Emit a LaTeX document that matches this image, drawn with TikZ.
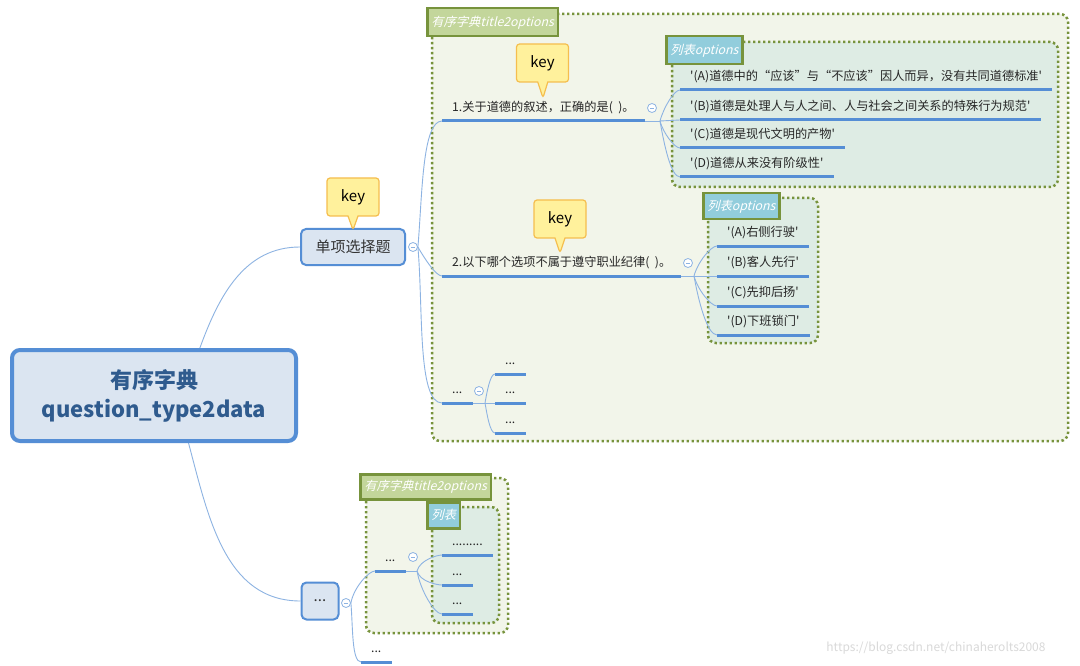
\documentclass[tikz,border=0pt]{standalone}
\usepackage{fontspec}
\setmainfont{Noto Sans CJK SC}[ItalicFont={Noto Sans CJK SC}, ItalicFeatures={FakeSlant=0.25}]
\usetikzlibrary{shapes.callouts}

\definecolor{rootfill}{HTML}{DBE5F1}
\definecolor{rootline}{HTML}{558ED5}
\definecolor{rootink}{HTML}{2F5B8E}
\definecolor{keyfill}{HTML}{FFF19C}
\definecolor{keyline}{HTML}{F5BE4E}
\definecolor{bndline}{HTML}{77933C}
\definecolor{bndfill}{HTML}{F2F5EA}
\definecolor{lstfill}{HTML}{DEECE4}
\definecolor{tagfill}{HTML}{C3D69B}
\definecolor{lsttag}{HTML}{92CDDC}
\definecolor{branchc}{HTML}{8DB3E2}
\definecolor{ulinec}{HTML}{558ED5}

\tikzset{
  rootbox/.style={draw=rootline, fill=rootfill, line width=4pt, rounded corners=8pt,
    minimum width=284pt, minimum height=91pt, align=center, text=rootink,
    font=\fontsize{22}{29}\selectfont\bfseries},
  subbox/.style={draw=rootline, fill=rootfill, line width=2pt, rounded corners=5pt,
    minimum height=36pt, text=black!80, font=\fontsize{15}{17}\selectfont},
  topic/.style={anchor=south west, inner xsep=10pt, inner ysep=7pt, text depth=2pt,
    text height=9pt, text=black!85, font=\fontsize{12.2}{14}\selectfont},
  uline/.style={draw=ulinec, line width=3pt},
  conn/.style={draw=branchc, line width=0.9pt},
  bup/.style={out=#1, in=180, in looseness=0.4},
  fold/.style={circle, draw=branchc, fill=white, line width=0.8pt, minimum size=9pt,
    inner sep=0pt, path picture={\draw[branchc, line width=0.8pt]
      ([xshift=-2.2pt]path picture bounding box.center) --
      ([xshift=2.2pt]path picture bounding box.center);}},
  keytip/.style={rectangle callout, rounded corners=3pt, draw=keyline, fill=keyfill,
    line width=1.2pt, minimum width=52pt, minimum height=38pt, callout pointer width=10pt,
    font=\fontsize{15}{17}\selectfont},
  bnd/.style={draw=bndline, fill=bndfill, line width=2.5pt, dash pattern=on 2.4pt off 2.6pt,
    rounded corners=8pt},
  lst/.style={bnd, fill=lstfill},
  tag/.style={anchor=north west, draw=bndline, line width=2.5pt, fill=tagfill, text=white,
    inner xsep=4pt, inner ysep=0pt, font=\fontsize{12.3}{14}\selectfont\itshape},
  lsttagbox/.style={tag, fill=lsttag}
}

\begin{document}
\begin{tikzpicture}[x=1pt, y=-1pt]
\useasboundingbox[fill=white] (0,0) rectangle (1080,666);

% groups (boundaries)
\draw[bnd] (432,14) rectangle (1068,441);
\draw[lst] (672,42) rectangle (1058,187);
\draw[lst] (708,198) rectangle (818,343);
\draw[bnd] (366,478) rectangle (508,633);
\draw[lst] (432,507) rectangle (499,623);
\node[tag, minimum height=28pt] (g1) at (426,7) {有序字典title2options};
\node[lsttagbox, minimum height=28pt] (l1) at (665,35) {列表options};
\node[lsttagbox, minimum height=26pt] (l2) at (702,192) {列表options};
\node[tag, minimum height=25pt] (g2) at (359,473) {有序字典title2options};
\node[lsttagbox, minimum height=26pt] (l3) at (426,501) {列表};

% main topics
\node[rootbox] (root) at (154,395.5) {有序字典\\question\_type2data};
\node[subbox, minimum width=104pt] (q1) at (353,247) {单项选择题};
\node[subbox, minimum width=37pt, minimum height=37pt] (q2) at (320,601) {...};
\node[fold] (fq1) at (413,247) {};
\node[fold] (fq2) at (346,603) {};

% first question
\node[topic] (t1) at (442,121) {1.关于道德的叙述，正确的是(\ \ )。};
\node[fold] (f1) at (652,108) {};
\coordinate (b1) at (660,121);
\node[topic] (o1a) at (680,90) {\textquotesingle(A)道德中的“应该”与“不应该”因人而异，没有共同道德标准\textquotesingle};
\node[topic] (o1b) at (680,120) {\textquotesingle(B)道德是处理人与人之间、人与社会之间关系的特殊行为规范\textquotesingle};
\node[topic] (o1c) at (680,148) {\textquotesingle(C)道德是现代文明的产物\textquotesingle};
\node[topic] (o1d) at (680,177) {\textquotesingle(D)道德从来没有阶级性\textquotesingle};

% second question
\node[topic] (t2) at (442,276) {2.以下哪个选项不属于遵守职业纪律(\ \ )。};
\node[fold] (f2) at (688,263) {};
\coordinate (b2) at (694,276);
\node[topic] (o2a) at (717,246) {\textquotesingle(A)右侧行驶\textquotesingle};
\node[topic] (o2b) at (717,276) {\textquotesingle(B)客人先行\textquotesingle};
\node[topic] (o2c) at (717,306) {\textquotesingle(C)先抑后扬\textquotesingle};
\node[topic] (o2d) at (717,335) {\textquotesingle(D)下班锁门\textquotesingle};

% third item
\node[topic] (t3) at (442,403) {...};
\node[fold] (f3) at (479,391) {};
\coordinate (b3) at (485,403);
\node[topic] (c3a) at (495,374) {...};
\node[topic] (c3b) at (495,403) {...};
\node[topic] (c3c) at (495,433) {...};

% lower branch
\node[topic] (t4) at (375,571) {...};
\node[fold] (f4) at (413,557) {};
\coordinate (b4) at (417,571);
\node[topic] (c4a) at (442,555) {.........};
\node[topic] (c4b) at (442,585) {...};
\node[topic] (c4c) at (442,614) {...};
\node[topic] (t5) at (361,662) {...};

% keys
\node[keytip, callout absolute pointer={(353,230)}] (k0) at (353,197) {key};
\node[keytip, callout absolute pointer={(543,98)}] (k1) at (542.5,63) {key};
\node[keytip, callout absolute pointer={(560,253)}] (k2) at (560,219) {key};

% underlines
\foreach \n in {t1,o1a,o1b,o1c,o1d,t2,o2a,o2b,o2c,o2d,t3,c3a,c3b,c3c,t4,c4a,c4b,c4c,t5}
  \draw[uline] (\n.south west) -- (\n.south east);

% connectors
\draw[conn] (root.46) to[out=70, in=180] (q1.west);
\draw[conn] (root.-54) to[out=-75, in=180] (q2.west);
\draw[conn] (fq1.east) to[bup=85] (t1.south west);
\draw[conn] (fq1.east) to[bup=-60] (t2.south west);
\draw[conn] (fq1.east) to[bup=-85] (t3.south west);
\draw[conn] (t1.south east) -- (b1);
\draw[conn] (b1) to[bup=75] (o1a.south west);
\draw[conn] (b1) -- (o1b.south west);
\draw[conn] (b1) to[bup=-75] (o1c.south west);
\draw[conn] (b1) to[bup=-80] (o1d.south west);
\draw[conn] (t2.south east) -- (b2);
\draw[conn] (b2) to[bup=75] (o2a.south west);
\draw[conn] (b2) -- (o2b.south west);
\draw[conn] (b2) to[bup=-75] (o2c.south west);
\draw[conn] (b2) to[bup=-80] (o2d.south west);
\draw[conn] (t3.south east) -- (b3);
\draw[conn] (b3) to[bup=80] (c3a.south west);
\draw[conn] (b3) -- (c3b.south west);
\draw[conn] (b3) to[bup=-80] (c3c.south west);
\draw[conn] (fq2.east) to[bup=80] (t4.south west);
\draw[conn] (fq2.east) to[bup=-85] (t5.south west);
\draw[conn] (t4.south east) -- (b4);
\draw[conn] (b4) to[bup=75] (c4a.south west);
\draw[conn] (b4) to[bup=-75] (c4b.south west);
\draw[conn] (b4) to[bup=-80] (c4c.south west);

\node[text=black!15, font=\fontsize{12}{14}\selectfont] (wm) at (936,648) {https://blog.csdn.net/chinaherolts2008};
\end{tikzpicture}
\end{document}
